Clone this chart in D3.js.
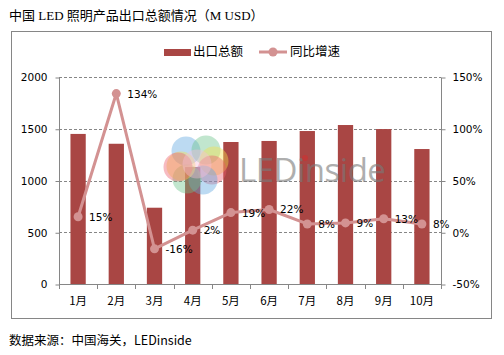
<!DOCTYPE html>
<html><head><meta charset="utf-8">
<script src="https://cdn.jsdelivr.net/npm/d3@7"></script>
<style>body{margin:0;background:#fff}svg{display:block}</style>
</head><body>
<svg id="c" width="504" height="355"></svg>
<script>
const months = ["1月","2月","3月","4月","5月","6月","7月","8月","9月","10月"];
const exportValues = [1450, 1355, 737, 1130, 1372, 1382, 1478, 1536, 1497, 1304];
const growthValues = [15, 134, -16, 2, 19, 22, 8, 9, 13, 8];
const leftTicks = [0, 500, 1000, 1500, 2000];
const rightTicks = [-50, 0, 50, 100, 150];
const title = "中国 LED 照明产品出口总额情况（M USD）";
const source = "数据来源：中国海关，LEDinside";
const seriesNames = ["出口总额", "同比增速"];

const svg = d3.select("#c");
const barColor = "#a94644", lineColor = "#d39292", axisColor = "#868686";
const numFont = "DejaVu Sans, Verdana, sans-serif";
const cjk = "'Noto Sans CJK SC', sans-serif";

svg.append("text").attr("x", 9).attr("y", 20).attr("font-family", "'Liberation Serif', 'Noto Sans CJK SC', serif")
  .attr("font-size", 13).attr("fill", "#000").text(title);

svg.append("rect").attr("x", 11.5).attr("y", 31.5).attr("width", 480).attr("height", 287)
  .attr("fill", "none").attr("stroke", axisColor).attr("stroke-width", 1);

const L = 59, R = 441, T = 77, B = 284;
const x = d3.scaleBand().domain(months).range([L, R]).paddingInner(0.6).paddingOuter(0.3);
const xEdge = d3.scaleBand().domain(months).range([L, R]);
const yL = d3.scaleLinear().domain([0, 2000]).range([B, T]);
const yR = d3.scaleLinear().domain([-50, 150]).range([B, T]);

// grid
svg.append("g").selectAll("line").data(leftTicks.filter(d => d > 0)).join("line")
  .attr("x1", L).attr("x2", R).attr("y1", d => Math.round(yL(d)) + 0.5).attr("y2", d => Math.round(yL(d)) + 0.5)
  .attr("stroke", axisColor).attr("stroke-dasharray", "3,2").attr("stroke-width", 1);

// bars
svg.append("g").selectAll("rect").data(exportValues).join("rect")
  .attr("x", (d, i) => x(months[i])).attr("width", x.bandwidth())
  .attr("y", d => yL(d)).attr("height", d => B - yL(d)).attr("fill", barColor);

// watermark (over bars, semi-transparent)
const wm = svg.append("g");
const petals = [["#5fa6df", -11, -13], ["#6cc38a", 9, -14], ["#f5e04a", 17, -3], ["#ec5c6c", 15, 6], ["#5fa6df", 6, 16], ["#6cc38a", -10, 15], ["#f5e04a", -16, 2], ["#ec5c6c", -19, 3], ["#f7bfd8", 0, 0]];
petals.forEach(p => wm.append("circle").attr("cx", 197 + p[1]).attr("cy", 164 + p[2]).attr("r", 14.5).attr("fill", p[0]).attr("opacity", 0.42));
svg.append("text").attr("x", 239).attr("y", 182).attr("font-family", "'Open Sans', 'DejaVu Sans', sans-serif")
  .attr("font-size", 33).attr("fill", "#7a7a7a").attr("opacity", 0.6).attr("letter-spacing", -0.5).text("LEDinside");
svg.append("circle").attr("cx", 305).attr("cy", 158).attr("r", 3).attr("fill", "#d03030").attr("opacity", 0.6);

// axes
const la = d3.axisLeft(yL).tickValues(leftTicks).tickSize(4).tickPadding(8).tickFormat(d3.format("d"));
const ga = svg.append("g").attr("transform", `translate(${L + 0.5},0.5)`).call(la);
const ra = d3.axisRight(yR).tickValues(rightTicks).tickSize(4).tickPadding(7).tickFormat(d => d + "%");
const gr = svg.append("g").attr("transform", `translate(${R + 0.5},0.5)`).call(ra);
[ga, gr].forEach(g => {
  g.select(".domain").attr("stroke", axisColor).attr("d", `M0,${T}V${B}`);
  g.selectAll(".tick line").attr("stroke", axisColor);
  g.selectAll("text").attr("font-family", numFont).attr("font-size", 10.5).attr("fill", "#000");
});
// x axis
svg.append("line").attr("x1", L).attr("x2", R + 1).attr("y1", B + 0.5).attr("y2", B + 0.5).attr("stroke", axisColor);
const edges = months.map(m => xEdge(m)).concat([R]);
svg.append("g").selectAll("line").data(edges).join("line")
  .attr("x1", d => Math.round(d) + 0.5).attr("x2", d => Math.round(d) + 0.5).attr("y1", B).attr("y2", B + 5).attr("stroke", axisColor);
svg.append("g").selectAll("text").data(months).join("text")
  .attr("x", d => x(d) + x.bandwidth() / 2).attr("y", 305).attr("text-anchor", "middle")
  .attr("font-family", cjk).attr("font-size", 11.5).attr("fill", "#000").text(d => d);

// line
const cx = i => x(months[i]) + x.bandwidth() / 2;
const line = d3.line().x((d, i) => cx(i)).y(d => yR(d));
svg.append("path").datum(growthValues).attr("d", line).attr("fill", "none")
  .attr("stroke", lineColor).attr("stroke-width", 3).attr("stroke-linejoin", "round");
svg.append("g").selectAll("circle").data(growthValues).join("circle")
  .attr("cx", (d, i) => cx(i)).attr("cy", d => yR(d)).attr("r", 4.5).attr("fill", lineColor);
svg.append("g").selectAll("text").data(growthValues).join("text")
  .attr("x", (d, i) => cx(i) + 11).attr("y", d => yR(d) + 4)
  .attr("font-family", numFont).attr("font-size", 10.5).attr("fill", "#000").text(d => d + "%");

// legend
svg.append("rect").attr("x", 164).attr("y", 49).attr("width", 27).attr("height", 7).attr("fill", barColor);
svg.append("text").attr("x", 193).attr("y", 56).attr("font-family", cjk).attr("font-size", 12.5).text(seriesNames[0]);
svg.append("line").attr("x1", 259).attr("x2", 287).attr("y1", 52).attr("y2", 52).attr("stroke", lineColor).attr("stroke-width", 3);
svg.append("circle").attr("cx", 273).attr("cy", 52).attr("r", 4.5).attr("fill", lineColor);
svg.append("text").attr("x", 290).attr("y", 56).attr("font-family", cjk).attr("font-size", 12.5).text(seriesNames[1]);

// source
svg.append("text").attr("x", 9).attr("y", 345).attr("font-family", cjk).attr("font-size", 12.5).attr("fill", "#000").text(source);
</script>
</body></html>
